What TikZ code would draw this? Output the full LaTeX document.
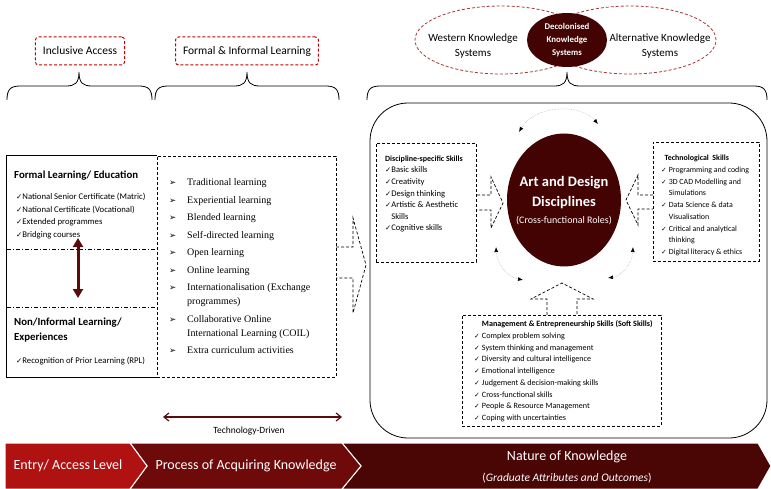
\documentclass[tikz,border=0pt]{standalone}
\usepackage{fontspec}
\usepackage{graphicx}
\setmainfont{Carlito}
\newfontfamily\listfont{Liberation Serif}
\newfontfamily\symfont{DejaVu Sans}
\usetikzlibrary{positioning}
\usetikzlibrary{shapes.geometric}
\usetikzlibrary{arrows.meta}
\definecolor{darkmaroon}{HTML}{430303}
\definecolor{boxred}{HTML}{C00000}
\definecolor{ellred}{HTML}{A33A3A}
\definecolor{entryred}{HTML}{B01212}
\definecolor{processred}{HTML}{6E0A0A}
\definecolor{naturered}{HTML}{4A0505}
\definecolor{arrowmaroon}{HTML}{5A0C0C}
\newcommand{\chk}{{\symfont\scalebox{0.85}{\char"2713}}}
\newcommand{\bul}{{\symfont\fontsize{8.5}{8.5}\selectfont\char"27A2}}
\begin{document}
\begin{tikzpicture}[x=1pt,y=-1pt,
  redbox/.style={draw=boxred,dash pattern=on 3pt off 2pt,line width=1pt,rounded corners=3pt,minimum height=28pt,inner xsep=7.5pt,font=\fontsize{11.5}{13}\selectfont},
  kellipse/.style={ellipse,draw=ellred,dash pattern=on 3pt off 2pt,line width=0.8pt,minimum width=172pt,minimum height=68pt},
  dashbox/.style={draw,dash pattern=on 3pt off 2pt,line width=0.7pt,inner sep=0pt},
  list/.style={anchor=north west,inner sep=0pt,align=left},
  blockarrow/.style={dash pattern=on 3pt off 2pt,line width=0.7pt},
  roundarrow/.style={draw=gray!50,densely dotted,line width=0.6pt,{Latex[length=5pt,width=4pt,black]}-{Latex[length=5pt,width=4pt,black]}},
  brace/.style={line width=0.8pt},
  chevron/.style={draw=white,line width=1pt}]

\useasboundingbox (0,0) rectangle (771,489);

% headings over the braces
\node[redbox] (ia) at (80,51) {Inclusive Access};
\node[redbox] (fil) at (247,51) {Formal \& Informal Learning};

\node[kellipse] (wks) at (501,40) {};
\node[kellipse] (aks) at (630,40) {};
\node[ellipse,fill=darkmaroon,minimum width=80pt,minimum height=54pt] (dks) at (567,40) {};
\node[align=center,font=\fontsize{11}{15.5}\selectfont] (wkst) at (473,46) {Western Knowledge\\Systems};
\node[align=center,font=\fontsize{11}{15.5}\selectfont] (akst) at (660,46) {Alternative Knowledge\\Systems};
\node[align=center,text=white,font=\fontsize{8.8}{12.8}\selectfont\bfseries] (dkst) at (dks) {Decolonised\\Knowledge\\Systems};

% braces
\draw[brace] (7,100) .. controls (7,90) and (10,86) .. (20,86) -- (66,86) .. controls (75,86) and (79,83) .. (79,72) .. controls (79,83) and (83,86) .. (92,86) -- (139,86) .. controls (149,86) and (152,90) .. (152,100);
\draw[brace] (155,100) .. controls (155,90) and (158,86) .. (168,86) -- (234,86) .. controls (243,86) and (247,83) .. (247,72) .. controls (247,83) and (251,86) .. (260,86) -- (326,86) .. controls (336,86) and (339,90) .. (339,100);
\draw[brace] (367,100) .. controls (367,90) and (370,86) .. (380,86) -- (554,86) .. controls (563,86) and (567,83) .. (567,72) .. controls (567,83) and (571,86) .. (580,86) -- (754,86) .. controls (764,86) and (767,90) .. (767,100);

% entry level
\node[minimum width=150pt,minimum height=221pt,inner sep=0pt] (entry) at (82,266.5) {};
\node[dashbox,minimum width=179pt,minimum height=221pt] (modes) at (246.5,266.5) {};
\draw[line width=0.8pt] (entry.north east) -- (entry.north west) -- (entry.south west) -- (entry.south east);
\draw[dash pattern=on 4pt off 2pt on 1pt off 2pt,line width=0.7pt] (7,249) -- (157,249);
\draw[dash pattern=on 4pt off 2pt on 1pt off 2pt,line width=0.7pt] (7,307) -- (157,307);

\node[anchor=base west,inner sep=0pt,font=\fontsize{10.8}{12}\selectfont\bfseries] (formal) at (14,179) {Formal Learning/ Education};
\node[list,font=\fontsize{8.7}{12.5}\selectfont] (formall) at (16,191) {\begin{tabular}{@{}l@{}}
\chk National Senior Certificate (Matric)\\
\chk National Certificate (Vocational)\\
\chk Extended programmes\\
\chk Bridging courses
\end{tabular}};
\coordinate (up) at (78,238);
\coordinate (dn) at (78,298);
\draw[arrowmaroon,line width=3pt,{Triangle[length=9pt,width=10pt]}-{Triangle[length=9pt,width=10pt]}] (up) -- (dn);
\node[list,font=\fontsize{10.8}{15}\selectfont\bfseries] (informal) at (14,315) {\begin{tabular}{@{}l@{}}
Non/Informal Learning/\\
Experiences
\end{tabular}};
\node[anchor=base west,inner sep=0pt,font=\fontsize{8.7}{10}\selectfont] (rpl) at (16,363) {\chk Recognition of Prior Learning (RPL)};

% process of acquiring knowledge
\node[list,font=\listfont\fontsize{10}{14}\selectfont] (modesl) at (169,175.7) {\begin{tabular}{@{}p{18pt}@{}l@{}}
\bul & Traditional learning\\[3.5pt]
\bul & Experiential learning\\[3.5pt]
\bul & Blended learning\\[3.5pt]
\bul & Self-directed learning\\[3.5pt]
\bul & Open learning\\[3.5pt]
\bul & Online learning\\[3.5pt]
\bul & Internationalisation (Exchange\\
     & programmes)\\[3.5pt]
\bul & Collaborative Online\\
     & International Learning (COIL)\\[3.5pt]
\bul & Extra curriculum activities
\end{tabular}};
\coordinate (tdl) at (163,417);
\coordinate (tdr) at (342,417);
\draw[arrowmaroon,line width=1.2pt,{Straight Barb[length=5pt,width=8pt]}-{Straight Barb[length=5pt,width=8pt]}] (tdl) -- (tdr);
\node[font=\fontsize{9.5}{11}\selectfont] (tdt) at (249,431) {Technology-Driven};
\draw[blockarrow] (336,247) -- (353,247) -- (353,218) -- (366,265) -- (353,313) -- (353,278) -- (336,278);

% nature of knowledge
\node[draw,line width=0.8pt,rounded corners=38pt,minimum width=397pt,minimum height=335pt] (nature) at (568.5,270.5) {};
\node[ellipse,fill=darkmaroon,minimum width=114pt,minimum height=133pt] (art) at (564,200) {};
\node[align=center,text=white,font=\fontsize{14.5}{20}\selectfont\bfseries] (artt) at (564,192.5) {Art and Design\\Disciplines};
\node[text=white,font=\fontsize{10}{12}\selectfont] (artr) at (564,221) {(Cross-functional Roles)};
\draw[roundarrow] (519,132) .. controls (535,105) and (580,103) .. (598,124);
\draw[roundarrow] (496,247) .. controls (497,265) and (508,277) .. (523,280);
\draw[roundarrow] (633,247) .. controls (632,265) and (621,276) .. (608,278);

\node[dashbox,minimum width=100pt,minimum height=119pt] (disc) at (426,202.5) {};
\node[list,font=\fontsize{8.6}{11.6}\selectfont] (discl) at (385,153) {\begin{tabular}{@{}l@{}l@{}}
\multicolumn{2}{@{}l@{}}{\fontsize{8}{11.6}\selectfont\bfseries Discipline-specific Skills}\\
\chk & Basic skills\\
\chk & Creativity\\
\chk & Design thinking\\
\chk & Artistic \& Aesthetic\\
     & Skills\\
\chk & Cognitive skills
\end{tabular}};
\draw[blockarrow] (477,195) -- (491,195) -- (491,177) -- (503,203) -- (491,228) -- (491,210) -- (477,210);

\node[dashbox,minimum width=106pt,minimum height=119pt] (tech) at (706,201.5) {};
\node[list,font=\fontsize{7.9}{11.7}\selectfont] (techl) at (661,152.5) {\begin{tabular}{@{}l@{\hspace{2pt}}l@{}}
\multicolumn{2}{@{\hspace{3.5pt}}l@{}}{\bfseries Technological\ \ Skills}\\
\chk & Programming and coding\\
\chk & 3D CAD Modelling and\\
     & Simulations\\
\chk & Data Science \& data\\
     & Visualisation\\
\chk & Critical and analytical\\
     & thinking\\
\chk & Digital literacy \& ethics
\end{tabular}};
\draw[blockarrow] (653,195) -- (638,195) -- (638,175) -- (626,200) -- (638,225) -- (638,209) -- (653,209);

\node[dashbox,minimum width=199pt,minimum height=111pt] (mgmt) at (561.5,370.5) {};
\node[list,font=\fontsize{8.1}{11.7}\selectfont] (mgmtl) at (474,318.5) {\begin{tabular}{@{}l@{\hspace{2pt}}l@{}}
     & \bfseries Management \& Entrepreneurship Skills (Soft Skills)\\
\chk & Complex problem solving\\
\chk & System thinking and management\\
\chk & Diversity and cultural intelligence\\
\chk & Emotional intelligence\\
\chk & Judgement \& decision-making skills\\
\chk & Cross-functional skills\\
\chk & People \& Resource Management\\
\chk & Coping with uncertainties
\end{tabular}};
\draw[blockarrow] (547,315) -- (547,299) -- (531,299) -- (562,283) -- (593,299) -- (577,299) -- (577,315);

% banner
\filldraw[chevron,fill=naturered] (342,443) -- (758,443) -- (771,466) -- (758,489) -- (342,489) -- (361,466) -- cycle;
\filldraw[chevron,fill=processred] (130,443) -- (342,443) -- (361,466) -- (342,489) -- (130,489) -- (147,466) -- cycle;
\filldraw[chevron,fill=entryred] (5,443) -- (130,443) -- (147,466) -- (130,489) -- (5,489) -- cycle;
\node[text=white,font=\fontsize{14}{16}\selectfont] (entryt) at (68,466) {Entry/ Access Level};
\node[text=white,font=\fontsize{14}{16}\selectfont] (processt) at (246,466) {Process of Acquiring Knowledge};
\node[text=white,font=\fontsize{14}{16}\selectfont] (naturet) at (567,457) {Nature of Knowledge};
\node[text=white,font=\fontsize{11.5}{13}\selectfont] (gradt) at (567,478) {(\textit{Graduate Attributes and Outcomes})};
\end{tikzpicture}
\end{document}
